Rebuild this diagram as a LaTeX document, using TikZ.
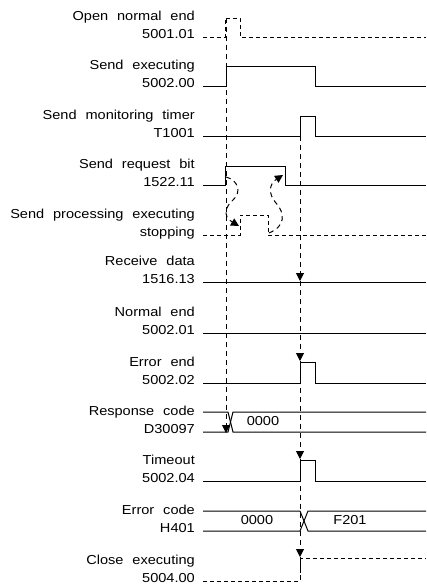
\documentclass[tikz,border=0pt]{standalone}
\usepackage{fontspec}
\setmainfont[FakeStretch=1.12,WordSpace=2.2]{Liberation Sans}
\usetikzlibrary{arrows.meta}

\begin{document}
\begin{tikzpicture}[x=1pt,y=-1pt,
  every node/.style={font=\fontsize{13}{18}\selectfont},
  lbl/.style={anchor=base east,align=right,inner sep=0pt},
  sig/.style={line width=1pt},
  dsig/.style={line width=1pt,dash pattern=on 4pt off 3pt},
  vline/.style={line width=1pt,dash pattern=on 5pt off 4pt},
  tip/.style={-{Triangle[length=8pt,width=8pt]}}]
\useasboundingbox (0,0) rectangle (426,584);
\node[lbl] (open) at (195,38.5) {Open normal end\\5001.01};
\node[lbl] (sendex) at (195,87.5) {Send executing\\5002.00};
\node[lbl] (timer) at (195,137.5) {Send monitoring timer\\T1001};
\node[lbl] (req) at (195,186.5) {Send request bit\\1522.11};
\node[lbl] (proc) at (195,236.5) {Send processing executing\\stopping};
\node[lbl] (recv) at (195,283.5) {Receive data\\1516.13};
\node[lbl] (nend) at (195,334.5) {Normal end\\5002.01};
\node[lbl] (eend) at (195,384.5) {Error end\\5002.02};
\node[lbl] (resp) at (195,433.5) {Response code\\D30097};
\node[lbl] (tmo) at (195,482.5) {Timeout\\5002.04};
\node[lbl] (ecode) at (195,532.5) {Error code\\H401};
\node[lbl] (close) at (195,582.5) {Close executing\\5004.00};
\draw[dsig] (203,37) -- (225,37) -- (225,18) -- (240,18) -- (240,37) -- (426,37);
\draw[sig] (203,86) -- (226,86) -- (226,66) -- (315,66) -- (315,86) -- (426,86);
\draw[sig] (203,136) -- (300,136) -- (300,116) -- (315,116) -- (315,136) -- (426,136);
\draw[sig] (203,185) -- (225,185) -- (225,166) -- (285,166) -- (285,185) -- (426,185);
\draw[dsig] (203,235) -- (240,235) -- (240,215) -- (268,215) -- (268,235) -- (426,235);
\draw[sig] (203,282) -- (426,282);
\draw[sig] (203,333) -- (426,333);
\draw[sig] (203,383) -- (300,383) -- (300,362) -- (315,362) -- (315,383) -- (426,383);
\draw[sig] (203,412) -- (228,412) -- (233,432) -- (426,432);
\draw[sig] (203,432) -- (228,432) -- (233,412) -- (426,412);
\node (resp0) at (263,421) {0000};
\draw[sig] (203,481) -- (300,481) -- (300,460) -- (315,460) -- (315,481) -- (426,481);
\draw[sig] (203,511) -- (300,511) -- (308,531) -- (426,531);
\draw[sig] (203,531) -- (300,531) -- (308,511) -- (426,511);
\node (ecode0) at (257,520) {0000};
\node (ecode1) at (350,520) {F201};
\draw[dsig] (203,581) -- (300,581) -- (300,558) -- (426,558);
\coordinate (v1top) at (226,18);
\coordinate (v1end) at (226,433);
\coordinate (v2top) at (300,136);
\coordinate (v2recv) at (300,281);
\coordinate (v2eend) at (300,361);
\coordinate (v2tmo) at (300,459);
\coordinate (v2close) at (300,557);
\coordinate (v2bot) at (300,581);
\draw[vline,tip] (v1top) -- (v1end);
\draw[vline,tip] (v2top) -- (v2recv);
\draw[vline,tip] (v2recv) -- (v2eend);
\draw[vline,tip] (v2eend) -- (v2tmo);
\draw[vline,tip] (v2tmo) -- (v2close);
\draw[vline] (v2close) -- (v2bot);
\coordinate (a1s) at (226,177);
\coordinate (a1e) at (239,226);
\coordinate (a2s) at (269,233);
\coordinate (a2e) at (283,175);
\draw[vline,tip] (a1s) .. controls (238,180) and (242,192) .. (233,200) .. controls (226,206) and (222,216) .. (a1e);
\draw[vline,tip] (a2s) .. controls (286,226) and (285,213) .. (276,203) .. controls (268,194) and (269,184) .. (a2e);
\end{tikzpicture}
\end{document}
